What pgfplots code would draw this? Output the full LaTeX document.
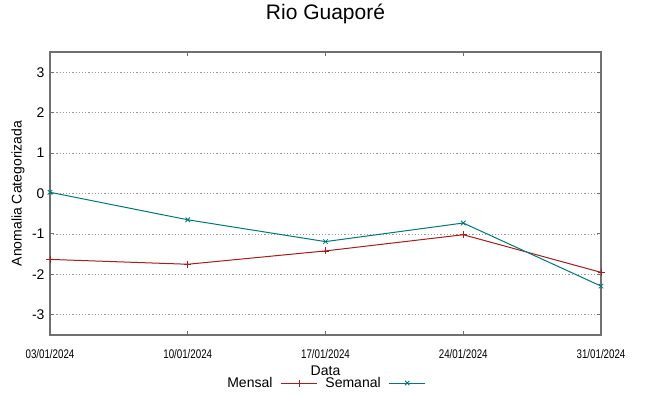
\documentclass[border=0pt]{standalone}
\usepackage{fontspec}
\setmainfont{Liberation Sans}
\newfontfamily\narrowfont[FakeStretch=0.78]{Liberation Sans}
\usepackage{pgfplots}
\pgfplotsset{compat=1.18}
\definecolor{mred}{HTML}{A81C1C}
\definecolor{mteal}{HTML}{007878}
\definecolor{bordergray}{HTML}{707070}
\begin{document}
\begin{tikzpicture}[x=1bp,y=1bp]
\begin{axis}[
  at={(50bp,61bp)}, anchor=south west,
  scale only axis, width=551bp, height=283bp,
  xmin=0, xmax=4, ymin=-3.5, ymax=3.5,
  xtick={0,1,2,3,4},
  xticklabels={03/01/2024,10/01/2024,17/01/2024,24/01/2024,31/01/2024},
  ytick={-3,-2,-1,0,1,2,3},
  tick align=inside,
  major tick length=4bp,
  axis line style={draw=bordergray, line width=1.1bp},
  every tick/.style={bordergray, line width=1bp},
  ymajorgrids,
  grid style={draw=black!40, dash pattern=on 1.2bp off 2bp, line width=0.7bp},
  xticklabel style={font=\narrowfont\fontsize{12.5bp}{14bp}\selectfont, yshift=-11bp},
  yticklabel style={font=\fontsize{14bp}{16bp}\selectfont, xshift=-2bp},
  /pgf/number format/assume math mode=true,
  title={Rio Guaporé},
  title style={font=\fontsize{21bp}{24bp}\selectfont, at={(axis description cs:0.5,1)}, anchor=center, yshift=32bp},
  xlabel={Data},
  xlabel style={font=\fontsize{14bp}{16bp}\selectfont, at={(axis description cs:0.5,0)}, anchor=center, yshift=-36bp},
  ylabel={Anomalia Categorizada},
  ylabel style={font=\fontsize{14bp}{16bp}\selectfont, at={(axis description cs:0,0.5)}, anchor=center, rotate=0, yshift=32bp},
  legend columns=2,
  legend plot pos=right,
  legend style={draw=none, fill=none, at={(axis description cs:0.5,0)}, anchor=center, yshift=-48bp,
    font=\fontsize{14bp}{16bp}\selectfont, column sep=6bp, inner sep=0pt,
    nodes={inner sep=2bp}},
  legend image code/.code={\draw[#1,mark=none] (0bp,0bp) -- (36bp,0bp);
    \draw[#1] plot coordinates {(18bp,0bp)};},
]
\addplot[mred, line width=1bp, mark=+, mark size=3.5bp, mark options={line width=0.8bp}] coordinates {
  (0,-1.63) (1,-1.75) (2,-1.42) (3,-1.02) (4,-1.95)};
\addlegendentry{Mensal}
\addplot[mteal, line width=1bp, mark=x, mark size=3.2bp, mark options={line width=0.8bp}] coordinates {
  (0,0.03) (1,-0.65) (2,-1.19) (3,-0.73) (4,-2.29)};
\addlegendentry{Semanal}
\end{axis}
\pgfresetboundingbox
\path (0bp,0bp) rectangle (649bp,396bp);
\end{tikzpicture}
\end{document}
